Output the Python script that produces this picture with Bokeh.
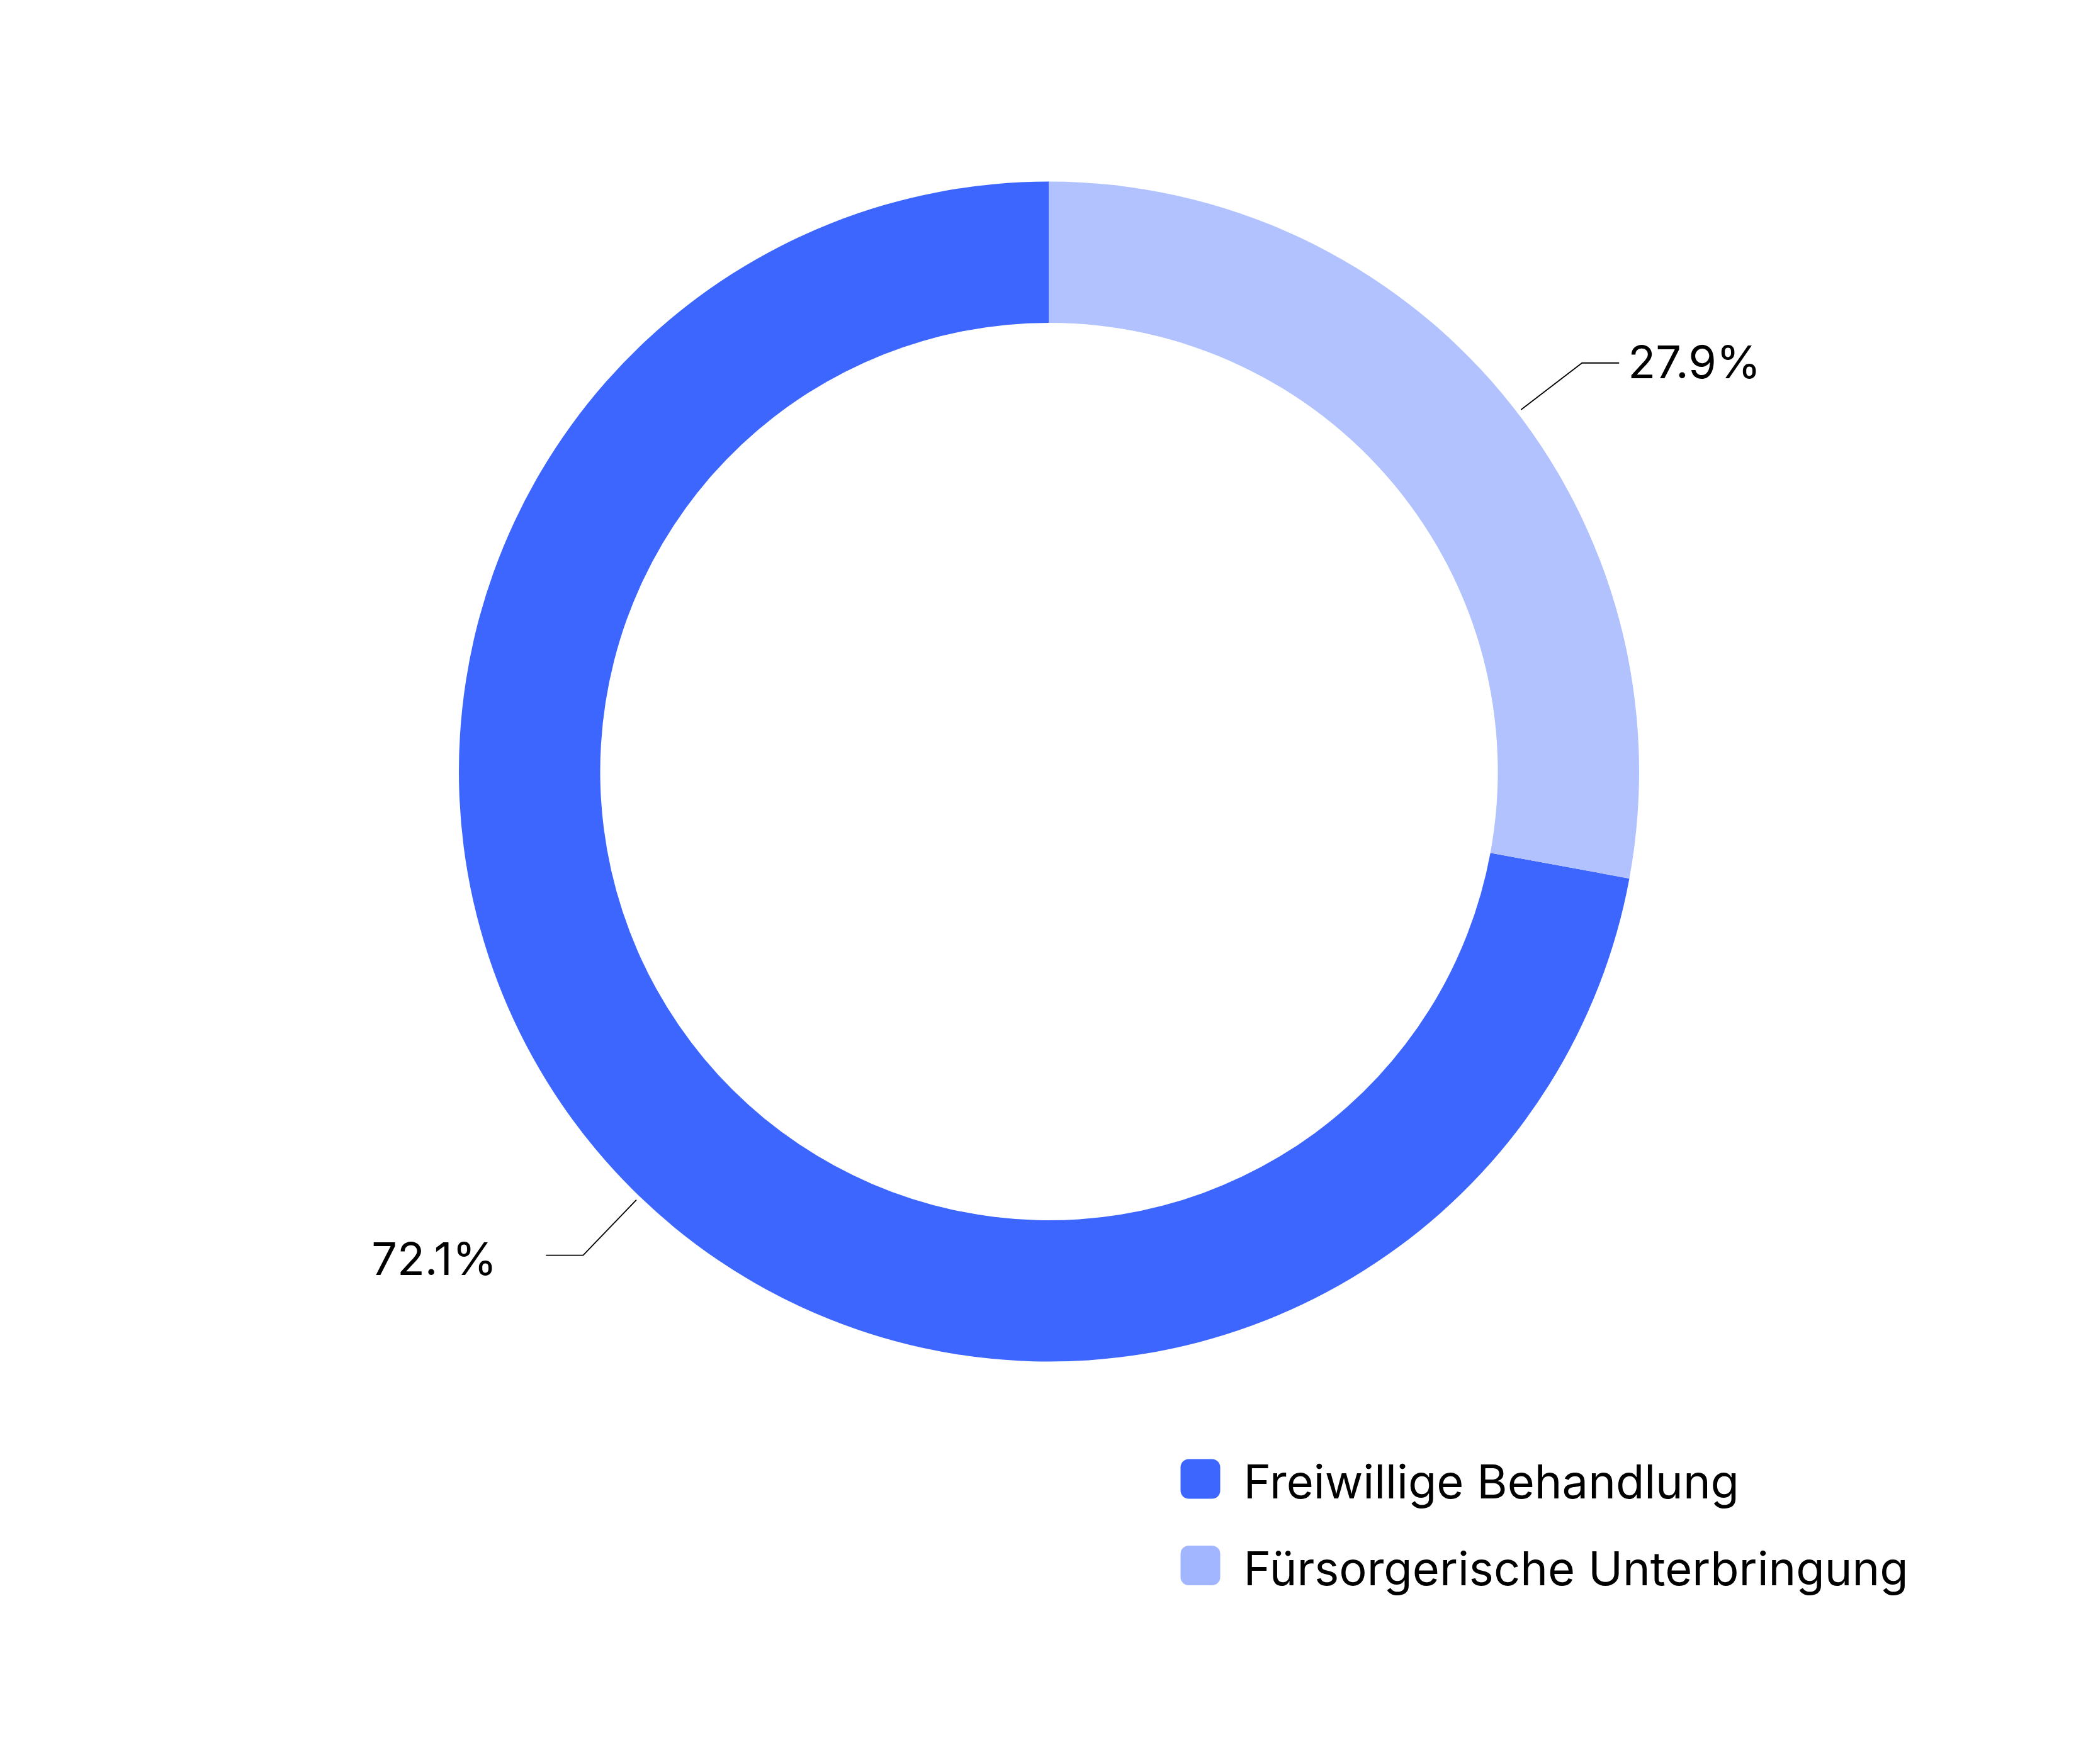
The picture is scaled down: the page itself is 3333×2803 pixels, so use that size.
import math
from bokeh.plotting import figure
from bokeh.models import ColumnDataSource, Range1d
from bokeh.core.properties import value
from bokeh.embed import file_html
from bokeh.resources import INLINE

# data
categories = ["Freiwillige Behandlung", "Fürsorgerische Unterbringung"]
shares = [72.1, 27.9]
share_labels = ["72.1%", "27.9%"]

# style
slice_colors = ["#3D66FF", "#B1C2FF"]
legend_colors = ["#3D66FF", "#A2B5FF"]
label_shift_deg = [6.3, -2.3]   # nudge of the leader anchors off the slice middle
FONT = value("Inter")

W, H = 3317, 2787
R_OUT, R_IN = 937.5, 713

# figure in pixel units, donut centre at (0, 0)
p = figure(width=W, height=H, output_backend="svg", toolbar_location=None,
           x_range=Range1d(-1666, 1651), y_range=Range1d(-1561.5, 1225.5),
           min_border=0, background_fill_color="white", border_fill_color="white")
p.axis.visible = False
p.grid.visible = False
p.outline_line_color = None

# slices run anticlockwise from 12 o'clock
total = sum(shares)
starts, ends = [], []
a = math.pi / 2
for s in shares:
    starts.append(a)
    a += s / total * 2 * math.pi
    ends.append(a)

src = ColumnDataSource(dict(start=starts, end=ends, color=slice_colors, name=categories))
p.annular_wedge(x=0, y=0, inner_radius=R_IN, outer_radius=R_OUT,
                start_angle="start", end_angle="end", direction="anticlock",
                fill_color="color", line_color=None, source=src)

# leader lines + labels
xs, ys, lx, ly, align = [], [], [], [], []
for st, en, shift in zip(starts, ends, label_shift_deg):
    th = (st + en) / 2 + math.radians(shift)
    c, s = math.cos(th), math.sin(th)
    x0, y0 = 945 * c, 945 * s
    x1, y1 = 1067 * c, 1067 * s
    side = 1 if c >= 0 else -1
    x2 = x1 + side * 59
    xs.append([x0, x1, x2])
    ys.append([y0, y1, y1])
    if side > 0:
        lx.append(x2 + 14)
        align.append("left")
        ly.append(y1 + 2)
    else:
        lx.append(x2 - 78)
        align.append("right")
        ly.append(y1 - 5)

p.multi_line(xs=xs, ys=ys, line_color="black", line_width=1.8)
p.text(x=lx, y=ly, text=share_labels, text_align=align, text_baseline="alphabetic",
       text_font=FONT, text_font_size="72px", text_color="black")

# legend, drawn by hand for the rounded swatches
leg_y = [-1124 - 137.5 * i for i in range(len(categories))]
p.rect(x=240.5, y=leg_y, width=37, height=37, fill_color=legend_colors,
       line_color=legend_colors, line_width=26, line_join="round")
p.text(x=309, y=[v - 4 for v in leg_y], text=categories, text_align="left",
       text_baseline="alphabetic", text_font=FONT, text_font_size="74px",
       text_color="black")

open("out.html", "w").write(file_html(p, INLINE))
